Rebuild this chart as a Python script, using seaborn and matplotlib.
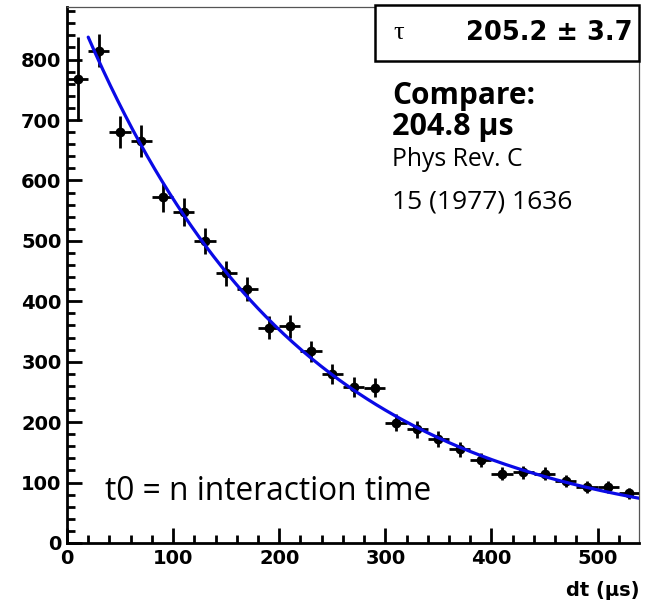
import numpy as np
import pandas as pd
import matplotlib
matplotlib.use("Agg")
import matplotlib.pyplot as plt
from matplotlib.patches import Rectangle
from matplotlib.ticker import MultipleLocator
import seaborn as sns

# ---- data ----
dt_us = [10, 30, 50, 70, 90, 110, 130, 150, 170, 190, 210, 230, 250, 270,
         290, 310, 330, 350, 370, 390, 410, 430, 450, 470, 490, 510, 530]
counts = [768, 815, 680, 665, 572, 548, 500, 446, 421, 356, 359, 317, 280, 258,
          257, 199, 188, 172, 155, 137, 115, 117, 115, 102, 92, 92, 82]
count_err = [70, 28, 26, 26, 24, 23, 22, 21, 20, 19, 19, 18, 17, 16,
             16, 14, 14, 13, 12, 12, 11, 11, 11, 10, 10, 10, 9]
bin_half_width = [10] * len(dt_us)

fit_tau = 205.2
fit_amplitude = 914.0
fit_offset = 8.0
fit_range = (20, 540)

x_ticks = [0, 100, 200, 300, 400, 500]
y_ticks = [0, 100, 200, 300, 400, 500, 600, 700, 800]

W, H = 652, 607
sns.set_theme(style="ticks")
plt.rcParams["font.family"] = ["DejaVu Sans"]
plt.rcParams["text.color"] = "black"
plt.rcParams["xtick.color"] = "black"
plt.rcParams["ytick.color"] = "black"
plt.rcParams["xtick.labelcolor"] = "black"
plt.rcParams["ytick.labelcolor"] = "black"

fig = plt.figure(figsize=(W / 100, H / 100), dpi=100)
ax = fig.add_axes([67 / W, 1 - 543 / H, (639 - 67) / W, (543 - 7) / H])

df = pd.DataFrame({"dt": dt_us, "counts": counts})
t_fit = np.linspace(fit_range[0], fit_range[1], 300)
fit_df = pd.DataFrame({"dt": t_fit,
                       "fit": fit_amplitude * np.exp(-t_fit / fit_tau) + fit_offset})

ax.errorbar(dt_us, counts, yerr=count_err, xerr=bin_half_width, fmt="none",
            ecolor="black", elinewidth=2.0, capsize=0, zorder=3)
sns.scatterplot(data=df, x="dt", y="counts", ax=ax, color="black", s=50,
                edgecolor="black", linewidth=0, zorder=4, legend=False)
sns.lineplot(data=fit_df, x="dt", y="fit", ax=ax, color="#0a0ae6", lw=2.3,
             zorder=5, legend=False)

ax.set_xlim(0, 539)
ax.set_ylim(0, 887)
ax.set_xticks(x_ticks)
ax.set_yticks(y_ticks)
ax.xaxis.set_minor_locator(MultipleLocator(20))
ax.yaxis.set_minor_locator(MultipleLocator(20))
ax.tick_params(which="major", direction="in", length=11, width=2.0,
               labelsize=14, pad=4, top=False, right=False,
               colors="black", labelcolor="black")
ax.tick_params(which="minor", direction="in", length=5.5, width=2.0,
               top=False, right=False, colors="black")
for lab in ax.get_xticklabels() + ax.get_yticklabels():
    lab.set_fontweight("bold")
ax.set_xlabel("")
ax.set_ylabel("")
for s in ["left", "bottom"]:
    ax.spines[s].set_linewidth(2.0)
    ax.spines[s].set_color("black")
for s in ["top", "right"]:
    ax.spines[s].set_linewidth(0.9)
    ax.spines[s].set_color("#555555")

def fx(px):
    return px / W

def fy(py):
    return 1 - py / H

fig.text(fx(640), fy(590), "dt (μs)", ha="right", va="center",
         fontsize=14, fontweight="bold", color="black")

# stats box
fig.patches.append(Rectangle((fx(375), fy(61)), fx(639) - fx(375), fy(5) - fy(61),
                             transform=fig.transFigure, facecolor="white",
                             edgecolor="black", linewidth=1.8, zorder=10))
fig.text(fx(399), fy(33), "τ", ha="center", va="center", fontsize=19,
         family=["Liberation Serif", "DejaVu Serif"], zorder=11, color="black")
fig.text(fx(633), fy(33), "205.2 ± 3.7", ha="right", va="center",
         fontsize=18.5, fontweight="bold", zorder=11, color="black")

txt_family = ["Open Sans", "DejaVu Sans"]
fig.text(fx(392), fy(96), "Compare:", ha="left", va="center", fontsize=21.5,
         fontweight="bold", family=txt_family, color="black")
fig.text(fx(392), fy(127), "204.8 μs", ha="left", va="center", fontsize=22,
         fontweight="bold", family=txt_family, color="black")
fig.text(fx(392), fy(159), "Phys Rev. C", ha="left", va="center", fontsize=17.8,
         family=txt_family, color="black")
fig.text(fx(392), fy(202), "15 (1977) 1636", ha="left", va="center", fontsize=19,
         family=txt_family, color="black")
fig.text(fx(105), fy(491), "t0 = n interaction time", ha="left", va="center",
         fontsize=22.8, family=txt_family, color="black")

fig.savefig("out.png", dpi=100)
